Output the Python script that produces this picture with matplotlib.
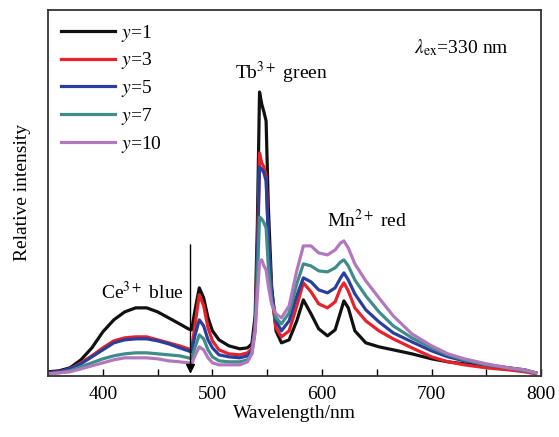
import matplotlib.pyplot as plt
import numpy as np

plt.rcParams['font.family'] = 'Liberation Serif'
plt.rcParams['mathtext.fontset'] = 'stix'

# wavelength (nm) and intensity (a.u.)
wl = [350, 360, 370, 380, 390, 400, 410, 420, 430, 440, 450, 460, 470, 478, 481,
      484, 488, 492, 496, 500, 506, 515, 525, 532, 536, 539, 541, 543, 545, 547,
      549, 551, 554, 558, 563, 570, 577, 583, 590, 597, 605, 612, 617, 620, 624,
      630, 640, 652, 665, 682, 700, 715, 730, 750, 770, 785, 795]

y1 = [4, 5, 8, 16, 28, 44, 56, 64, 68, 68, 64, 58, 52, 47, 46,
      65, 88, 78, 58, 45, 36, 30, 27, 28, 32, 60, 150, 284, 272, 264,
      255, 170, 90, 45, 33, 36, 55, 76, 62, 47, 40, 46, 64, 75, 68,
      45, 33, 29, 26, 22, 17, 14, 12, 10, 8, 6, 3]
y3 = [3, 4, 7, 13, 20, 28, 35, 38, 39, 39, 36, 33, 30, 27, 26,
      50, 81, 70, 48, 35, 26, 22, 21, 23, 27, 50, 120, 223, 213, 209,
      200, 140, 80, 48, 39, 45, 70, 93, 84, 72, 68, 74, 88, 93, 85,
      68, 55, 45, 37, 28, 19, 14, 11, 8, 6, 4, 2]
y5 = [3, 4, 7, 12, 19, 26, 33, 36, 37, 37, 35, 32, 28, 25, 24,
      40, 56, 50, 36, 28, 21, 19, 18, 20, 25, 50, 115, 209, 207, 203,
      195, 140, 85, 55, 45, 55, 80, 98, 94, 86, 83, 88, 98, 103, 96,
      82, 66, 54, 43, 34, 25, 19, 15, 11, 8, 5, 3]
y7 = [2, 3, 5, 9, 13, 17, 20, 22, 23, 23, 22, 21, 20, 18, 17,
      28, 41, 37, 26, 19, 15, 14, 14, 16, 22, 45, 95, 159, 157, 153,
      148, 110, 75, 58, 52, 63, 92, 112, 110, 105, 104, 108, 114, 116, 110,
      96, 80, 64, 50, 38, 28, 21, 16, 11, 8, 5, 3]
y10 = [2, 3, 4, 7, 10, 13, 16, 18, 18, 18, 17, 15, 14, 13, 12,
       20, 29, 26, 18, 13, 11, 11, 11, 14, 22, 45, 80, 114, 116, 110,
       106, 90, 72, 62, 58, 70, 105, 130, 130, 123, 121, 126, 133, 135, 128,
       112, 95, 78, 60, 42, 30, 22, 17, 12, 8, 6, 3]

labels = ['$y$=1', '$y$=3', '$y$=5', '$y$=7', '$y$=10']
colors = ['#111111', '#e8222b', '#2a3f9c', '#3f8c8a', '#b278bd']

fig = plt.figure(figsize=(5.59, 4.37), dpi=100)
ax = fig.add_axes([0.086, 0.14, 0.882, 0.837])

for s, lab, c in zip([y1, y3, y5, y7, y10], labels, colors):
    ax.plot(wl, s, color=c, lw=2.3, label=lab)

ax.set_xlim(350, 800)
ax.set_ylim(0, 366)
ax.set_xticks([400, 500, 600, 700, 800])
ax.set_xticks([450, 550, 650, 750], minor=True)
ax.set_yticks([])
ax.tick_params(axis='x', which='both', direction='in', length=5, width=1, labelsize=14, pad=7)
for sp in ax.spines.values():
    sp.set_linewidth(1.3)
    sp.set_color('#333333')

ax.set_xlabel('Wavelength/nm', fontsize=14, labelpad=2)
ax.set_ylabel('Relative intensity', fontsize=14, labelpad=12)

leg = ax.legend(loc='upper left', frameon=False, fontsize=14, handlelength=2.8,
                handletextpad=0.3, labelspacing=0.35, borderaxespad=0.25)

ax.text(436, 84, 'Ce$^{3+}$ blue', fontsize=14, ha='center', va='center')
ax.text(563, 303, 'Tb$^{3+}$ green', fontsize=14, ha='center', va='center')
ax.text(641, 156, 'Mn$^{2+}$ red', fontsize=14, ha='center', va='center')
ax.text(727, 328, r'$\lambda_{\rm ex}$=330 nm', fontsize=14, ha='center', va='center')

ax.annotate('', xy=(480, 2), xytext=(480, 131),
            arrowprops=dict(arrowstyle='-|>', color='black', lw=1, mutation_scale=14,
                            shrinkA=0, shrinkB=0))

plt.savefig('out.png', dpi=100)
